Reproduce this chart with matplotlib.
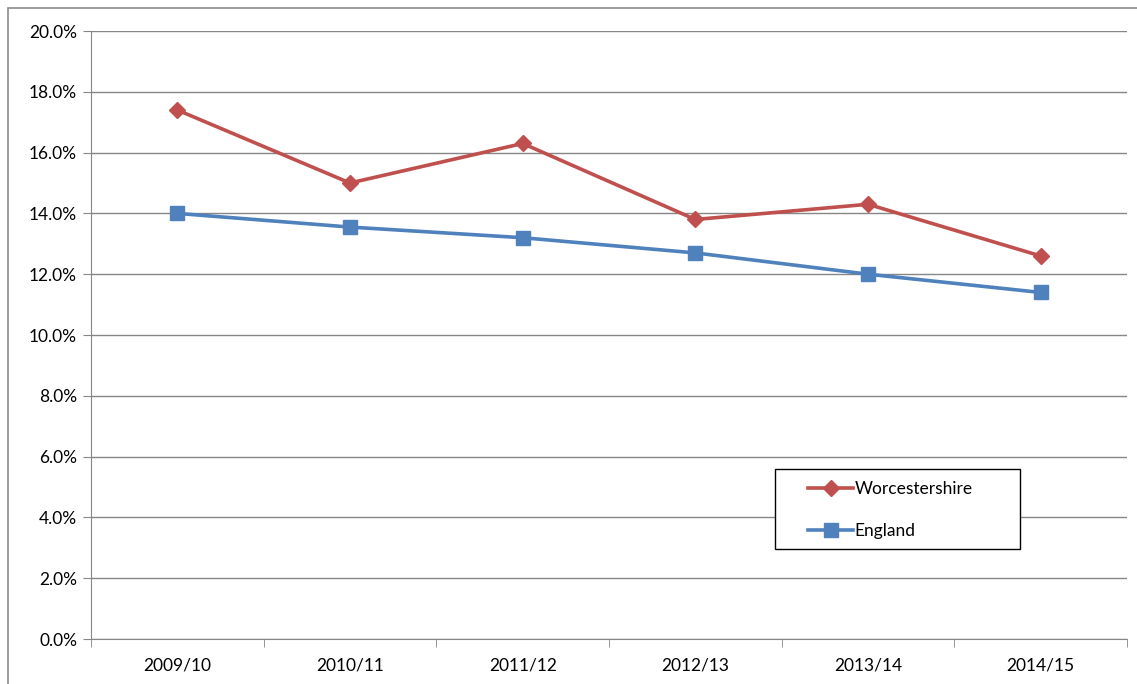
import matplotlib.pyplot as plt
import matplotlib.patches as mpatches

years = ["2009/10", "2010/11", "2011/12", "2012/13", "2013/14", "2014/15"]
worcestershire = [17.4, 15.0, 16.3, 13.8, 14.3, 12.6]
england = [14.0, 13.55, 13.2, 12.7, 12.0, 11.4]
yticks = [0, 2, 4, 6, 8, 10, 12, 14, 16, 18, 20]

plt.rcParams['font.family'] = ['Lato', 'DejaVu Sans']

W, H = 1137, 684
fig = plt.figure(figsize=(W / 100, H / 100), dpi=100)
# outer chart frame
fig.patches.append(mpatches.Rectangle((8 / W, -0.01), 1.02, 1 - 8 / H + 0.01,
                                      transform=fig.transFigure, fill=False,
                                      edgecolor='#8c8c8c', linewidth=1.2))

ax = fig.add_axes([91 / W, 1 - 639 / H, (1127 - 91) / W, (639 - 31) / H])

x = range(len(years))
ax.plot(x, worcestershire, color='#C0504D', linewidth=2.6, marker='D', markersize=8.5,
        label='Worcestershire')
ax.plot(x, england, color='#4F81BD', linewidth=2.6, marker='s', markersize=10.5,
        label='England')

ax.set_xlim(-0.5, 5.5)
ax.set_ylim(0, 20)
ax.set_yticks(yticks)
ax.set_yticklabels([f"{v:.1f}%" for v in yticks], fontsize=12.5)
ax.set_xticks(list(x))
ax.set_xticklabels(years, fontsize=12.5)
ax.set_xticks([i - 0.5 for i in range(len(years) + 1)], minor=True)
ax.tick_params(axis='x', which='major', length=0, pad=13)
ax.tick_params(axis='x', which='minor', length=6, color='#868686', direction='out')
ax.tick_params(axis='y', length=6, color='#868686', pad=4)

ax.grid(axis='y', color='#868686', linewidth=1)
ax.set_axisbelow(True)
for s in ['top', 'right']:
    ax.spines[s].set_visible(False)
for s in ['left', 'bottom']:
    ax.spines[s].set_color('#868686')

# legend box
fig.patches.append(mpatches.Rectangle((775 / W, 1 - 549 / H), (1020 - 775) / W, 80 / H,
                                      transform=fig.transFigure, facecolor='white',
                                      edgecolor='black', linewidth=1.0, zorder=5))
leg = fig.legend(loc='center left', bbox_to_anchor=(808 / W, 1 - 510 / H),
                 frameon=False, fontsize=12.5, handlelength=2.6, handletextpad=0.1,
                 labelspacing=1.45, borderpad=0, borderaxespad=0)
leg.set_zorder(6)

fig.savefig('out.png', dpi=100)
